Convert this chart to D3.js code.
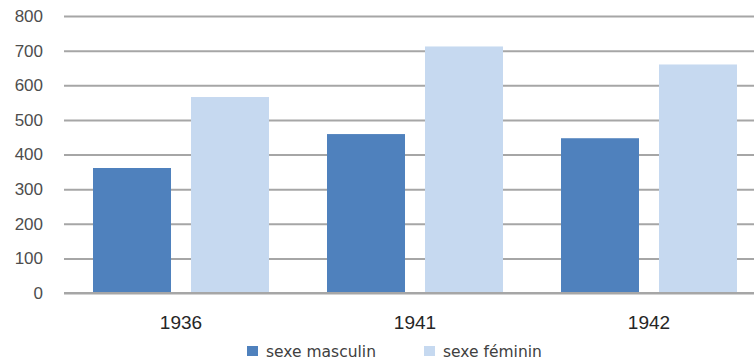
<!DOCTYPE html>
<html>
<head>
<meta charset="utf-8">
<script src="https://cdn.jsdelivr.net/npm/d3@7"></script>
<style>
  html, body { margin: 0; padding: 0; background: #fff; overflow: hidden; }
  text { font-family: "Liberation Sans", "DejaVu Sans", sans-serif; }
</style>
</head>
<body>
<svg id="chart" width="754" height="362"></svg>
<script>
const categories = ["1936", "1941", "1942"];
const seriesNames = ["sexe masculin", "sexe féminin"];
const masculin = [361, 459, 447];
const feminin = [566, 712, 660];
const yTicks = [0, 100, 200, 300, 400, 500, 600, 700, 800];
const colors = ["#4f81bd", "#c6d9f0"];

const svg = d3.select("#chart");
const x0 = d3.scaleBand().domain(categories).range([64, 766]).paddingInner(0).paddingOuter(0);
const x1 = d3.scaleBand().domain(seriesNames).range([0, x0.bandwidth()]).paddingInner(0.204).paddingOuter(0.296);
const y = d3.scaleLinear().domain([0, 800]).range([293, 16]);

// gridlines
const yAxis = d3.axisLeft(y).tickValues(yTicks).tickSize(-(766 - 64)).tickPadding(21).tickFormat(d3.format("d"));
const gy = svg.append("g").attr("transform", "translate(64,0)").call(yAxis);
gy.select(".domain").remove();
gy.selectAll(".tick line").attr("stroke", "#a6a6a6").attr("stroke-width", 2);
gy.selectAll(".tick text").attr("font-size", 17).attr("fill", "#4d4d4d");

const data = categories.map((c, i) => ({cat: c, vals: [masculin[i], feminin[i]]}));
const groups = svg.append("g").selectAll("g").data(data).join("g")
  .attr("transform", d => `translate(${x0(d.cat)},0)`);
groups.selectAll("rect").data(d => d.vals.map((v, j) => ({name: seriesNames[j], v, j}))).join("rect")
  .attr("x", d => x1(d.name))
  .attr("width", x1.bandwidth())
  .attr("y", d => y(d.v))
  .attr("height", d => y(0) - y(d.v))
  .attr("fill", d => colors[d.j]);

// baseline
svg.append("line").attr("x1", 64).attr("x2", 766).attr("y1", y(0)).attr("y2", y(0))
  .attr("stroke", "#a6a6a6").attr("stroke-width", 2);

// x labels
const xAxis = d3.axisBottom(x0).tickSize(0).tickPadding(23);
const gx = svg.append("g").attr("transform", `translate(0,${y(0)})`).call(xAxis);
gx.select(".domain").remove();
gx.selectAll(".tick text").attr("font-size", 19).attr("fill", "#262626");

// legend
const legendX = [247, 424];
const leg = svg.append("g");
seriesNames.forEach((s, i) => {
  leg.append("rect").attr("x", legendX[i]).attr("y", 346).attr("width", 11).attr("height", 10).attr("fill", colors[i]);
  leg.append("text").attr("x", legendX[i] + 19).attr("y", 357).attr("font-size", 15.5)
    .style("font-family", "'DejaVu Sans', sans-serif").attr("fill", "#404040").text(s);
});
</script>
</body>
</html>
